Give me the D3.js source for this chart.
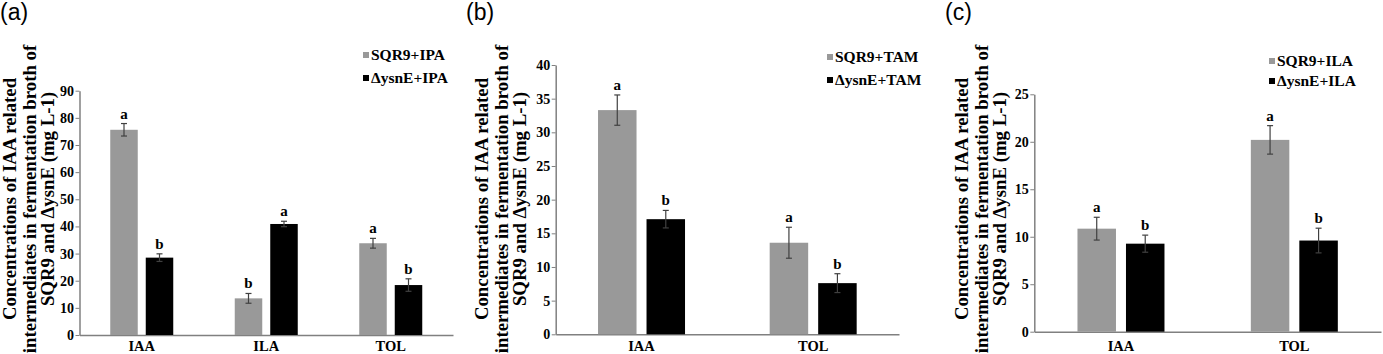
<!DOCTYPE html>
<html>
<head>
<meta charset="utf-8">
<script src="https://cdn.jsdelivr.net/npm/d3@7"></script>
<style>
  body { margin: 0; background: #fff; }
  svg { display: block; }
  text { font-family: "Liberation Serif", "Times New Roman", serif; font-weight: bold; fill: #000; }
</style>
</head>
<body>
<svg id="chart" width="1383" height="354"></svg>
<script>
// ---------- DATA ----------
const seriesNamesA = ["SQR9+IPA", "ΔysnE+IPA"];
const categoriesA = ["IAA", "ILA", "TOL"];
const sqr9A = [75.6, 13.5, 33.8];
const sqr9ErrA = [2.3, 1.8, 1.8];
const ysnEA = [28.5, 40.9, 18.4];
const ysnEErrA = [1.4, 1.0, 2.3];
const sqr9LettersA = ["a", "b", "a"];
const ysnELettersA = ["b", "a", "b"];
const ticksA = [0, 10, 20, 30, 40, 50, 60, 70, 80, 90];

const seriesNamesB = ["SQR9+TAM", "ΔysnE+TAM"];
const categoriesB = ["IAA", "TOL"];
const sqr9B = [33.3, 13.6];
const sqr9ErrB = [2.25, 2.3];
const ysnEB = [17.1, 7.6];
const ysnEErrB = [1.3, 1.4];
const sqr9LettersB = ["a", "a"];
const ysnELettersB = ["b", "b"];
const ticksB = [0, 5, 10, 15, 20, 25, 30, 35, 40];

const seriesNamesC = ["SQR9+ILA", "ΔysnE+ILA"];
const categoriesC = ["IAA", "TOL"];
const sqr9C = [10.85, 20.2];
const sqr9ErrC = [1.2, 1.5];
const ysnEC = [9.27, 9.6];
const ysnEErrC = [0.9, 1.3];
const sqr9LettersC = ["a", "a"];
const ysnELettersC = ["b", "b"];
const ticksC = [0, 5, 10, 15, 20, 25];

const panelLabels = ["(a)", "(b)", "(c)"];
const yTitleLines = ["Concentrations of IAA related", "intermediates in fermentation broth of", "SQR9 and ΔysnE (mg L-1)"];

const colors = ["#999999", "#000000"];

// ---------- LAYOUT ----------
const panels = [
  { label: panelLabels[0], labelX: 0, cats: categoriesA, names: seriesNamesA,
    vals: [sqr9A, ysnEA], errs: [sqr9ErrA, ysnEErrA], letters: [sqr9LettersA, ysnELettersA],
    ticks: ticksA, x0: 79.5, x1: 453, y0: 335, yTop: 90.7, groupW: 63, gap: 8,
    titleX: [16, 35.5, 54], titleY: 199, legX: 363, legY: [55, 78] },
  { label: panelLabels[1], labelX: 466, cats: categoriesB, names: seriesNamesB,
    vals: [sqr9B, ysnEB], errs: [sqr9ErrB, ysnEErrB], letters: [sqr9LettersB, ysnELettersB],
    ticks: ticksB, x0: 555.7, x1: 899, y0: 334.3, yTop: 65, groupW: 87, gap: 10,
    titleX: [488, 507.5, 526], titleY: 199, legX: 827, legY: [57, 80] },
  { label: panelLabels[2], labelX: 945, cats: categoriesC, names: seriesNamesC,
    vals: [sqr9C, ysnEC], errs: [sqr9ErrC, ysnEErrC], letters: [sqr9LettersC, ysnELettersC],
    ticks: ticksC, x0: 1034.3, x1: 1381, y0: 331.7, yTop: 94.3, groupW: 87, gap: 10,
    titleX: [968, 987.5, 1006], titleY: 199, legX: 1269, legY: [61, 81] }
];

const svg = d3.select("#chart");

panels.forEach(p => {
  const g = svg.append("g");
  const maxTick = p.ticks[p.ticks.length - 1];
  const y = d3.scaleLinear().domain([0, maxTick]).range([p.y0, p.yTop]);
  const x = d3.scaleBand().domain(p.cats).range([p.x0, p.x1]).padding(0);
  const barW = (p.groupW - p.gap) / 2;
  const inner = d3.scaleBand().domain([0, 1]).range([-p.groupW / 2, p.groupW / 2])
    .paddingInner(p.gap / (barW + p.gap)).paddingOuter(0);

  // Panel label
  svg.append("text").attr("x", p.labelX).attr("y", 20)
    .style("font-family", "'Liberation Sans', Arial, sans-serif")
    .style("font-weight", "normal").style("font-size", "23px")
    .text(p.label);

  // Y axis
  const yAxis = d3.axisLeft(y).tickValues(p.ticks).tickSize(4).tickPadding(1.5).tickSizeOuter(0);
  const ya = g.append("g").attr("transform", `translate(${p.x0},0)`).call(yAxis);
  ya.select(".domain").attr("stroke", "#808080").attr("stroke-width", 1.5);
  ya.selectAll(".tick line").attr("stroke", "#808080");
  ya.selectAll(".tick text").style("font-family", "'Liberation Serif', serif")
    .style("font-weight", "bold").style("font-size", "14px").attr("fill", "#000");

  // X axis
  const xAxis = d3.axisBottom(x).tickSize(0).tickPadding(0).tickSizeOuter(0);
  const xa = g.append("g").attr("transform", `translate(0,${p.y0})`).call(xAxis);
  xa.select(".domain").attr("stroke", "#808080").attr("stroke-width", 1.5);
  xa.selectAll(".tick text").attr("dy", null).attr("y", 351 - p.y0)
    .style("font-family", "'Liberation Serif', serif")
    .style("font-weight", "bold").style("font-size", "14.5px").attr("fill", "#000");

  // Bars, error bars, letters
  [0, 1].forEach(s => {
    const data = p.cats.map((c, i) => ({ c, v: p.vals[s][i], e: p.errs[s][i], l: p.letters[s][i] }));
    const cx = d => x(d.c) + x.bandwidth() / 2 + inner(s);
    g.selectAll(null).data(data).enter().append("rect")
      .attr("x", cx).attr("y", d => y(d.v))
      .attr("width", inner.bandwidth()).attr("height", d => p.y0 - y(d.v))
      .attr("fill", colors[s]);
    const mid = d => cx(d) + inner.bandwidth() / 2;
    const eg = g.selectAll(null).data(data).enter().append("g")
      .attr("stroke", "#404040").attr("stroke-width", 1.2);
    eg.append("line").attr("x1", mid).attr("x2", mid)
      .attr("y1", d => y(d.v + d.e)).attr("y2", d => y(d.v - d.e));
    eg.append("line").attr("x1", d => mid(d) - 3).attr("x2", d => mid(d) + 3)
      .attr("y1", d => y(d.v + d.e)).attr("y2", d => y(d.v + d.e));
    eg.append("line").attr("x1", d => mid(d) - 3).attr("x2", d => mid(d) + 3)
      .attr("y1", d => y(d.v - d.e)).attr("y2", d => y(d.v - d.e));
    g.selectAll(null).data(data).enter().append("text")
      .attr("x", mid).attr("y", d => y(d.v + d.e) - 5)
      .attr("text-anchor", "middle").style("font-size", "15px")
      .text(d => d.l);
  });

  // Y title
  p.titleX.forEach((tx, i) => {
    g.append("text")
      .attr("transform", `translate(${tx},${p.titleY}) rotate(-90)`)
      .attr("text-anchor", "middle").style("font-size", "18.8px")
      .text(yTitleLines[i]);
  });

  // Legend
  p.names.forEach((n, i) => {
    g.append("rect").attr("x", p.legX).attr("y", p.legY[i] - 3)
      .attr("width", 6).attr("height", 6).attr("fill", colors[i]);
    g.append("text").attr("x", p.legX + 8).attr("y", p.legY[i] + 5)
      .style("font-size", "15.5px").text(n);
  });
});
</script>
</body>
</html>
